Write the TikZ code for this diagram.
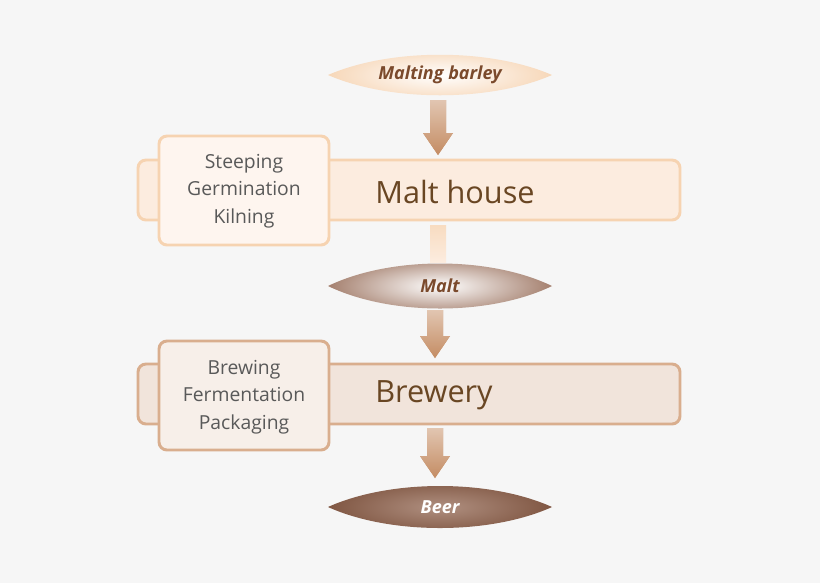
\documentclass[tikz,border=0pt]{standalone}
\usepackage{fontspec}
\setmainfont{Open Sans}
\begin{document}
\begin{tikzpicture}[x=0.75pt,y=-0.75pt,
  bar/.style={rounded corners=6pt,line width=2.2pt},
  txt/.style={text=black!65,align=center,font=\fontsize{14.5}{20.5}\selectfont},
  big/.style={text=brown!55!black,font=\fontsize{23}{25}\selectfont},
  lab/.style={font=\bfseries\itshape\fontsize{13.5}{15}\selectfont}]
\definecolor{bg}{HTML}{F6F6F6}
\definecolor{pk1}{HTML}{FCECDF}\definecolor{pk2}{HTML}{F6D3B1}
\definecolor{br1}{HTML}{F1E4DB}\definecolor{br2}{HTML}{D9AE8E}
\definecolor{arr}{HTML}{C48C63}\definecolor{dk}{HTML}{8E604A}
\definecolor{tx}{HTML}{7B4A2C}
\useasboundingbox (0,0) rectangle (820,583);
\fill[bg] (0,0) rectangle (820,583);
\newcommand{\lens}[4]{\path[#4] (#1-112,#2) .. controls (#1-50,#2-#3) and (#1+50,#2-#3) .. (#1+112,#2) .. controls (#1+50,#2+#3) and (#1-50,#2+#3) .. cycle;}
\newcommand{\arrw}[3]{\fill[arr,top color=arr!50,bottom color=arr] (#1-8,#2) -- (#1+8,#2) -- (#1+8,#3-22) -- (#1+15,#3-22) -- (#1,#3) -- (#1-15,#3-22) -- (#1-8,#3-22) -- cycle;}
% lens 1
\lens{440}{75}{27}{inner color=white,outer color=pk2!90}
\node[lab,text=tx] (mb) at (440,75) {Malting barley};
\arrw{438}{100}{155}
% malt house
\draw[bar,draw=pk2,fill=pk1] (138,160) rectangle (680,220);
\draw[bar,draw=pk2,fill=pk1!50] (159,136) rectangle (329,245);
\node[txt] (s1) at (244,191) {Steeping\\Germination\\Kilning};
\node[big] (mh) at (455,192) {Malt house};
\fill[pk2!70,top color=pk2!80,bottom color=pk1] (430,225) rectangle (446,262);
% malt
\lens{440}{286}{30}{inner color=white,outer color=dk!80}
\node[lab,text=tx] (m) at (440,286) {Malt};
\arrw{435}{310}{358}
% brewery
\draw[bar,draw=br2,fill=br1] (138,364) rectangle (680,424);
\draw[bar,draw=br2,fill=br1!60] (159,341) rectangle (329,450);
\node[txt] (s2) at (244,397) {Brewing\\Fermentation\\Packaging};
\node[big] (bw) at (434,395) {Brewery};
\arrw{435}{428}{478}
% beer
\lens{440}{507}{28}{inner color=dk!70,outer color=dk!90!black}
\node[lab,text=white] (b) at (440,507) {Beer};
\end{tikzpicture}
\end{document}
